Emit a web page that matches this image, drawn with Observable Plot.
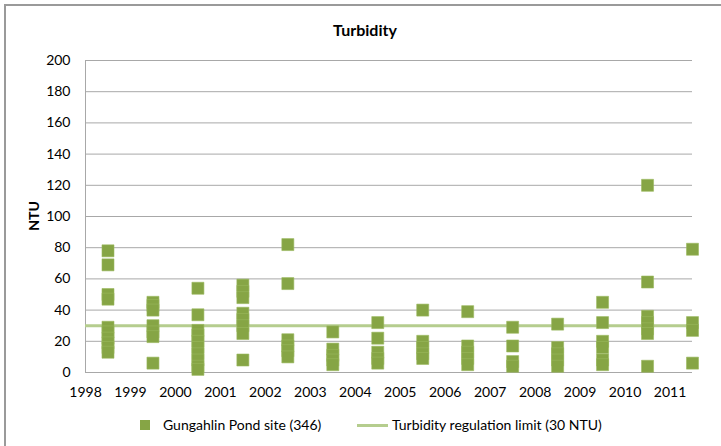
<!DOCTYPE html>
<html>
<head>
<meta charset="utf-8">
<script src="https://cdn.jsdelivr.net/npm/d3@7"></script>
<script src="https://cdn.jsdelivr.net/npm/@observablehq/plot@0.6"></script>
<style>
  body { margin: 0; background: #fff; font-family: Lato, "Open Sans", sans-serif; }
  #wrap { position: relative; width: 721px; height: 446px; overflow: hidden; background: #fff; }
  #frame { position: absolute; left: 4px; top: 4px; width: 800px; height: 600px;
           border-left: 2px solid #9a9a9a; border-top: 2px solid #9a9a9a; }
  #chart { position: absolute; left: 0; top: 0; }
  #title { position: absolute; left: 300px; width: 130px; top: 20px; text-align: center;
           font-weight: bold; font-size: 16px; color: #000; }
  #ylabel { position: absolute; left: 33px; top: 216px; transform: translate(-50%, -50%) rotate(-90deg);
            font-weight: bold; font-size: 14px; color: #000; white-space: nowrap; }
  .leg { position: absolute; font-size: 14px; color: #000; white-space: nowrap; line-height: 16px; }
  .sw { position: absolute; }
</style>
</head>
<body>
<div id="wrap">
  <div id="frame"></div>
  <div id="chart"></div>
  <div id="title">Turbidity</div>
  <div id="ylabel">NTU</div>
  <div class="sw" style="left:140px;top:420px;width:10px;height:10px;background:#86a545;"></div>
  <div class="leg" id="leg1" style="left:163px;top:417px;"></div>
  <div class="sw" style="left:357px;top:424px;width:31px;height:3px;background:#b5cd8e;"></div>
  <div class="leg" id="leg2" style="left:392px;top:417px;"></div>
</div>
<script>
// ---- data ----
const sampleDates = [1998.5, 1999.5, 2000.5, 2001.5, 2002.5, 2003.5, 2004.5,
                     2005.5, 2006.5, 2007.5, 2008.5, 2009.5, 2010.5, 2011.5];
const ntuReadings = [
  [78, 69, 50, 47, 29, 26, 22, 19, 16, 13],
  [45, 43, 40, 30, 26, 23, 6],
  [54, 37, 27, 24, 20, 16, 12, 8, 4, 2],
  [56, 52, 48, 38, 34, 30, 25, 8],
  [82, 57, 21, 17, 14, 10],
  [26, 15, 11, 8, 5],
  [32, 22, 13, 9, 6],
  [40, 20, 16, 12, 9],
  [39, 17, 13, 9, 5],
  [29, 17, 7, 4],
  [31, 16, 12, 8, 4],
  [45, 32, 20, 16, 8, 5],
  [120, 58, 36, 32, 28, 25, 4],
  [79, 32, 27, 6]
];
const regulationLimit = 30;
const yearTicks = [1998, 1999, 2000, 2001, 2002, 2003, 2004, 2005, 2006, 2007, 2008, 2009, 2010, 2011];
const ntuTicks = [0, 20, 40, 60, 80, 100, 120, 140, 160, 180, 200];
const seriesName = "Gungahlin Pond site (346)";
const limitName = "Turbidity regulation limit (30 NTU)";

const points = sampleDates.flatMap((d, i) => ntuReadings[i].map(v => ({date: d, ntu: v})));

document.getElementById("leg1").textContent = seriesName;
document.getElementById("leg2").textContent = limitName;

const chart = Plot.plot({
  width: 721,
  height: 400,
  marginLeft: 85,
  marginRight: 29,
  marginTop: 60,
  marginBottom: 28,
  style: {fontFamily: "Lato, 'Open Sans', sans-serif", fontSize: "14px", color: "#000", background: "transparent", overflow: "visible"},
  x: {domain: [1998, 2011.5], ticks: yearTicks, tickFormat: d => String(d), tickSize: 0, tickPadding: 15, label: null},
  y: {domain: [0, 200], ticks: ntuTicks, tickSize: 0, tickPadding: 15, label: null},
  marks: [
    Plot.gridY(ntuTicks, {stroke: "#a8a8a8", strokeOpacity: 1}),
    Plot.ruleX([1998], {stroke: "#a8a8a8"}),
    Plot.ruleY([regulationLimit], {stroke: "#b5cd8e", strokeWidth: 3}),
    Plot.dot(points, {x: "date", y: "ntu", symbol: "square", r: 6.77, fill: "#86a545", stroke: "#9bb85e", strokeWidth: 0.6})
  ]
});
document.getElementById("chart").appendChild(chart);
</script>
</body>
</html>
